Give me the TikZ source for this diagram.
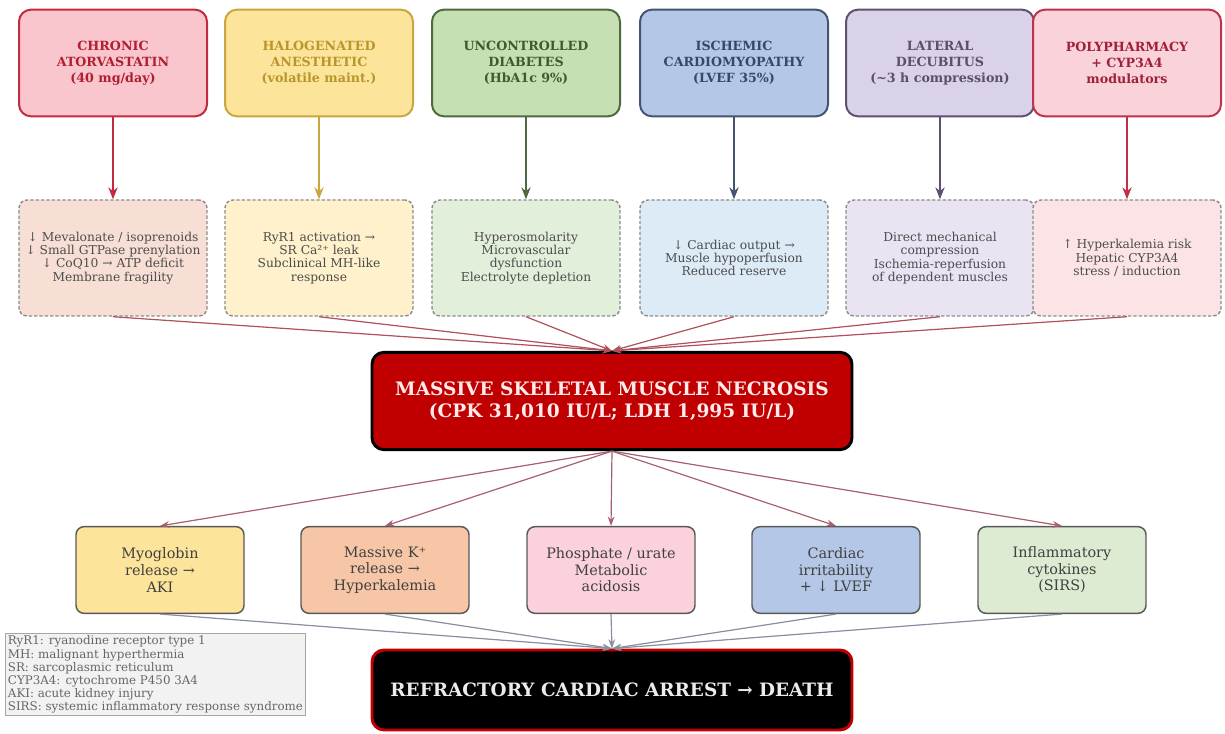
\documentclass[tikz,border=0pt]{standalone}
\usepackage{fontspec}
\setmainfont{DejaVu Serif}
\usetikzlibrary{arrows.meta}

\definecolor{redF}{HTML}{F8C6CC}\definecolor{redD}{HTML}{C22A3E}\definecolor{redT}{HTML}{B01E32}
\definecolor{yelF}{HTML}{FDE49B}\definecolor{yelD}{HTML}{C9A640}\definecolor{yelT}{HTML}{B8962A}
\definecolor{grnF}{HTML}{C6E0B4}\definecolor{grnD}{HTML}{4E6B40}\definecolor{grnT}{HTML}{3E5A30}
\definecolor{bluF}{HTML}{B4C7E7}\definecolor{bluD}{HTML}{435570}\definecolor{bluT}{HTML}{34486A}
\definecolor{lavF}{HTML}{D9D2E9}\definecolor{lavD}{HTML}{5E5070}\definecolor{lavT}{HTML}{5A5068}
\definecolor{pnkF}{HTML}{FAD3DA}\definecolor{pnkD}{HTML}{C0304A}\definecolor{pnkT}{HTML}{A0203A}
\definecolor{mech1}{HTML}{F8DFD5}\definecolor{mech2}{HTML}{FFF1CC}\definecolor{mech3}{HTML}{E2EFDA}
\definecolor{mech4}{HTML}{DDEBF7}\definecolor{mech5}{HTML}{EAE4F2}\definecolor{mech6}{HTML}{FCE4E6}
\definecolor{eff1}{HTML}{FDE49B}\definecolor{eff2}{HTML}{F6C6A6}\definecolor{eff3}{HTML}{FBD1DC}
\definecolor{eff4}{HTML}{B4C7E7}\definecolor{eff5}{HTML}{DCEBD2}
\definecolor{necF}{HTML}{C00000}\definecolor{arrowA}{HTML}{B0505A}
\definecolor{arrowB}{HTML}{A86070}\definecolor{arrowC}{HTML}{8A8FA0}

\begin{document}
\begin{tikzpicture}[x=0.75pt, y=-0.75pt,
    cause/.style={draw, rounded corners=9pt, line width=1.5pt, minimum width=141pt,
      minimum height=80pt, align=center, font=\fontsize{9.5}{12}\selectfont\bfseries},
    mech/.style={draw=gray!90, dashed, dash pattern=on 2.5pt off 1.5pt, rounded corners=6pt,
      line width=1.1pt, minimum width=141pt, minimum height=87pt, align=center,
      text=black!70, font=\fontsize{9.2}{10}\selectfont},
    effect/.style={draw=black!65, fill=#1, rounded corners=6pt, line width=1.1pt,
      minimum width=126pt, minimum height=65pt, align=center, text=black!75,
      font=\fontsize{10.8}{12.4}\selectfont},
    feed/.style={-{Stealth[length=9pt,width=7pt]}, line width=1.1pt},
    link/.style={-{Stealth[length=7pt,width=5pt]}, line width=0.9pt}]
  \useasboundingbox (0,0) rectangle (1225,734);

  % predisposing factors
  \node[cause, fill=redF, draw=redD, text=redT] (c1) at (113,63) {CHRONIC\\ATORVASTATIN\\(40 mg/day)};
  \node[cause, fill=yelF, draw=yelD, text=yelT] (c2) at (319,63) {HALOGENATED\\ANESTHETIC\\(volatile maint.)};
  \node[cause, fill=grnF, draw=grnD, text=grnT] (c3) at (526,63) {UNCONTROLLED\\DIABETES\\(HbA1c 9\%)};
  \node[cause, fill=bluF, draw=bluD, text=bluT] (c4) at (734,63) {ISCHEMIC\\CARDIOMYOPATHY\\(LVEF 35\%)};
  \node[cause, fill=lavF, draw=lavD, text=lavT] (c5) at (940,63) {LATERAL\\DECUBITUS\\(\textasciitilde3 h compression)};
  \node[cause, fill=pnkF, draw=pnkD, text=pnkT] (c6) at (1127,63) {POLYPHARMACY\\+ CYP3A4\\modulators};

  % mechanisms
  \node[mech, fill=mech1] (m1) at (113,258) {↓ Mevalonate / isoprenoids\\↓ Small GTPase prenylation\\↓ CoQ10 → ATP deficit\\Membrane fragility};
  \node[mech, fill=mech2] (m2) at (319,258) {RyR1 activation →\\SR Ca²⁺ leak\\Subclinical MH-like\\response};
  \node[mech, fill=mech3] (m3) at (526,258) {Hyperosmolarity\\Microvascular\\dysfunction\\Electrolyte depletion};
  \node[mech, fill=mech4] (m4) at (734,258) {↓ Cardiac output →\\Muscle hypoperfusion\\Reduced reserve};
  \node[mech, fill=mech5] (m5) at (940,258) {Direct mechanical\\compression\\Ischemia-reperfusion\\of dependent muscles};
  \node[mech, fill=mech6] (m6) at (1127,258) {↑ Hyperkalemia risk\\Hepatic CYP3A4\\stress / induction};

  \foreach \i/\col in {1/redD, 2/yelD, 3/grnD, 4/bluD, 5/lavD, 6/pnkD}
    \draw[feed, draw=\col, fill=\col] (c\i) -- (m\i);

  % central event
  \node[draw=black, fill=necF, rounded corners=9pt, line width=2.2pt, minimum width=360pt,
    minimum height=73pt, align=center, text=red!8,
    font=\fontsize{13.9}{16.5}\selectfont\bfseries] (nec) at (612,401)
    {MASSIVE SKELETAL MUSCLE NECROSIS\\(CPK 31,010 IU/L; LDH 1,995 IU/L)};

  \foreach \i in {1,...,6}
    \draw[link, draw=arrowA, fill=arrowA] (m\i.south) -- (nec.north);

  % consequences
  \node[effect=eff1] (e1) at (160,570) {Myoglobin\\release →\\AKI};
  \node[effect=eff2] (e2) at (385,570) {Massive K⁺\\release →\\Hyperkalemia};
  \node[effect=eff3] (e3) at (611,570) {Phosphate / urate\\Metabolic\\acidosis};
  \node[effect=eff4] (e4) at (836,570) {Cardiac\\irritability\\+ ↓ LVEF};
  \node[effect=eff5] (e5) at (1062,570) {Inflammatory\\cytokines\\(SIRS)};

  \foreach \i in {1,...,5}
    \draw[link, draw=arrowB, fill=arrowB] (nec.south) -- (e\i.north);

  % outcome
  \node[draw=necF, fill=black, rounded corners=9pt, line width=2.2pt, minimum width=360pt,
    minimum height=60pt, text=white!92!black,
    font=\fontsize{13.8}{16}\selectfont\bfseries] (arrest) at (612,690)
    {REFRACTORY CARDIAC ARREST → DEATH};

  \foreach \i in {1,...,5}
    \draw[link, draw=arrowC, fill=arrowC] (e\i.south) -- (arrest.north);

  % abbreviations
  \node[draw=black!35, fill=black!5, anchor=north west, align=left, inner sep=2pt,
    text=black!60, font=\fontsize{8.9}{9.8}\selectfont] (legend) at (5,633)
    {RyR1: ryanodine receptor type 1\\MH: malignant hyperthermia\\SR: sarcoplasmic reticulum\\CYP3A4: cytochrome P450 3A4\\AKI: acute kidney injury\\SIRS: systemic inflammatory response syndrome};
\end{tikzpicture}
\end{document}
